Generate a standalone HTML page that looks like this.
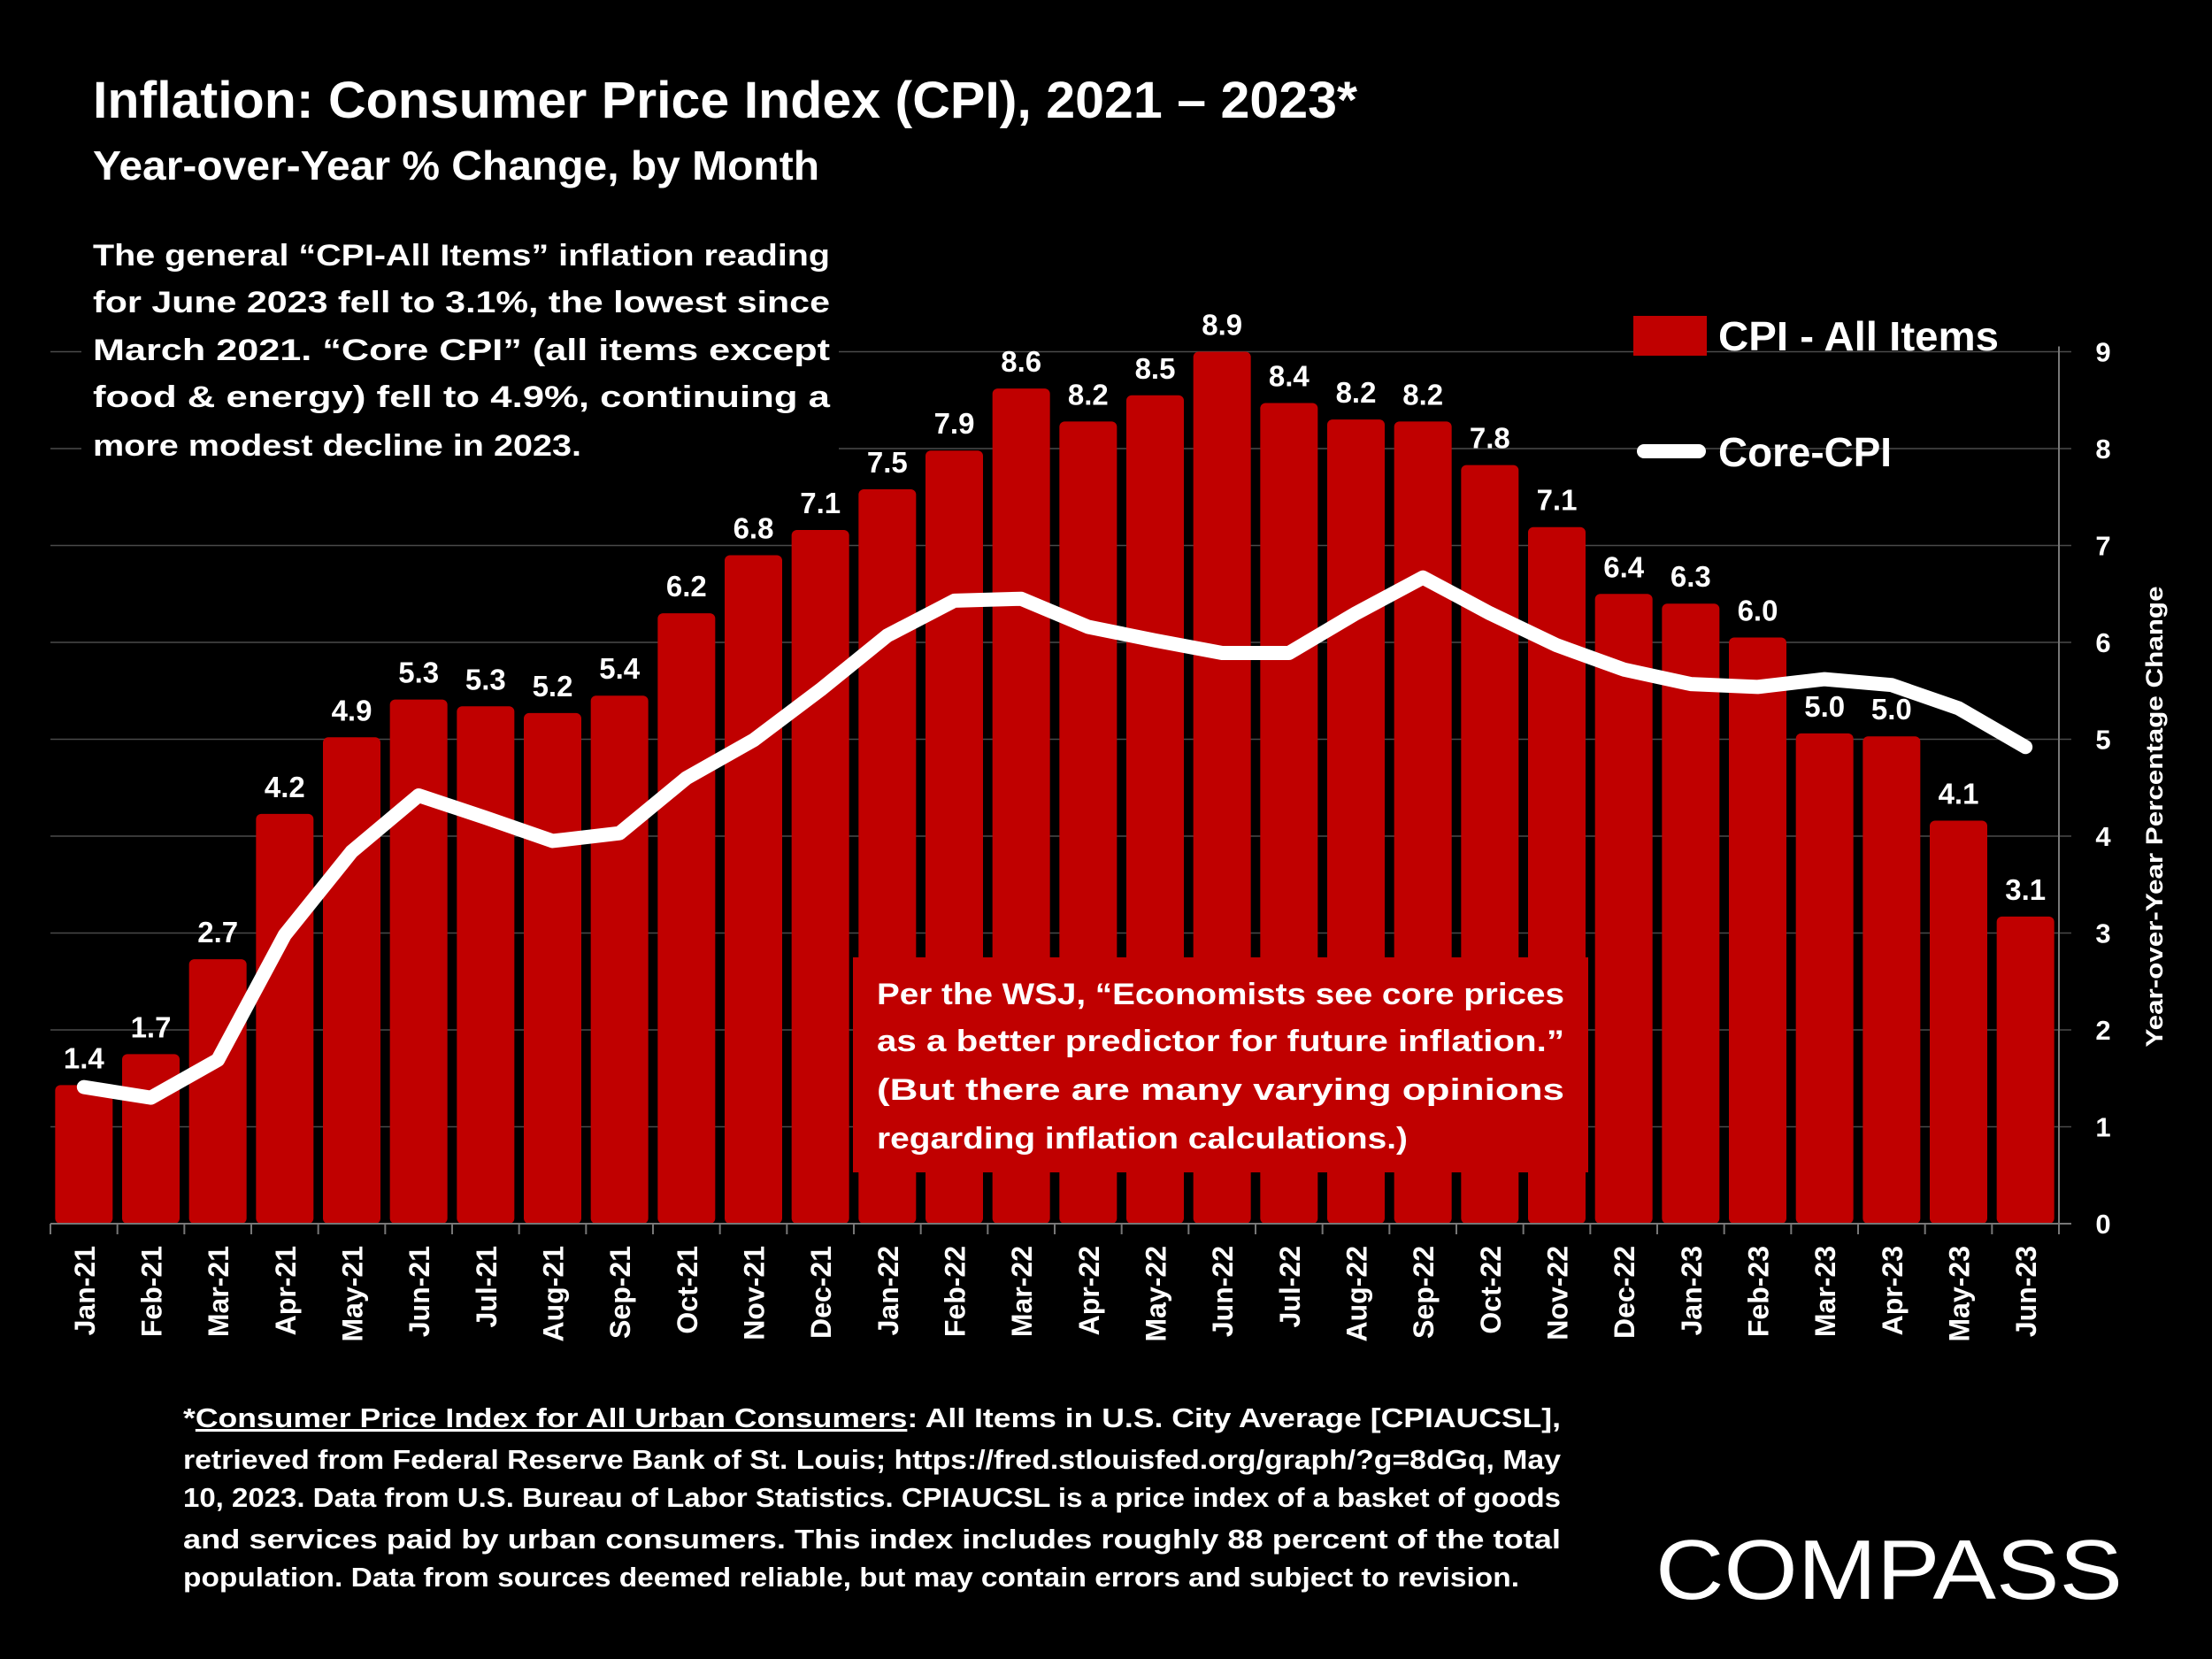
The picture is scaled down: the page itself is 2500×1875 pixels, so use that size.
<!DOCTYPE html>
<html><head><meta charset="utf-8"><style>
html,body{margin:0;padding:0;background:#000;}
svg{display:block;}
text{font-family:"Liberation Sans",sans-serif;fill:#fff;font-weight:bold;}
</style></head>
<body>
<svg id="chart" width="2500" height="1875" viewBox="0 0 2500 1875">
<rect x="0" y="0" width="2500" height="1875" fill="#000"/>
<text x="105" y="133" font-size="58" textLength="1429" lengthAdjust="spacingAndGlyphs">Inflation: Consumer Price Index (CPI), 2021 – 2023*</text>
<text x="105" y="203" font-size="46" textLength="821" lengthAdjust="spacingAndGlyphs">Year-over-Year % Change, by Month</text>
<g id="grid"></g>
<g font-size="34">
<rect x="92" y="258" width="856" height="275" fill="#000"/>
<text x="105" y="300" textLength="833" lengthAdjust="spacingAndGlyphs">The general “CPI-All Items” inflation reading</text>
<text x="105" y="353" textLength="833" lengthAdjust="spacingAndGlyphs">for June 2023 fell to 3.1%, the lowest since</text>
<text x="105" y="407" textLength="833" lengthAdjust="spacingAndGlyphs">March 2021. “Core CPI” (all items except</text>
<text x="105" y="460" textLength="833" lengthAdjust="spacingAndGlyphs">food &amp; energy) fell to 4.9%, continuing a</text>
<text x="105" y="515" textLength="552" lengthAdjust="spacingAndGlyphs">more modest decline in 2023.</text>
</g>
<g id="bars"></g>
<g id="axes"></g>
<g id="line"></g>
<g id="labels"></g>

<g>
<rect x="964" y="1082" width="831" height="243" fill="#c00000"/>
<g font-size="34">
<text x="991" y="1135" textLength="777" lengthAdjust="spacingAndGlyphs">Per the WSJ, “Economists see core prices</text>
<text x="991" y="1188" textLength="777" lengthAdjust="spacingAndGlyphs">as a better predictor for future inflation.”</text>
<text x="991" y="1243" textLength="777" lengthAdjust="spacingAndGlyphs">(But there are many varying opinions</text>
<text x="991" y="1298" textLength="600" lengthAdjust="spacingAndGlyphs">regarding inflation calculations.)</text>
</g></g>

<g>
<rect x="1846" y="357" width="83" height="45" fill="#c00000"/>
<text x="1942" y="396" font-size="46" textLength="317" lengthAdjust="spacingAndGlyphs">CPI - All Items</text>
<line x1="1858" y1="510" x2="1920" y2="510" stroke="#fff" stroke-width="16" stroke-linecap="round"/>
<text x="1942" y="527" font-size="46" textLength="196" lengthAdjust="spacingAndGlyphs">Core-CPI</text>
</g>

<text transform="translate(2444,923) rotate(-90)" text-anchor="middle" font-size="27" textLength="521" lengthAdjust="spacingAndGlyphs">Year-over-Year Percentage Change</text>

<g font-size="31">
<text x="207" y="1613" textLength="1557" lengthAdjust="spacingAndGlyphs">*<tspan text-decoration="underline">Consumer Price Index for All Urban Consumers</tspan>: All Items in U.S. City Average [CPIAUCSL],</text>
<text x="207" y="1660" textLength="1557" lengthAdjust="spacingAndGlyphs">retrieved from Federal Reserve Bank of St. Louis; https://fred.stlouisfed.org/graph/?g=8dGq, May</text>
<text x="207" y="1703" textLength="1557" lengthAdjust="spacingAndGlyphs">10, 2023. Data from U.S. Bureau of Labor Statistics. CPIAUCSL is a price index of a basket of goods</text>
<text x="207" y="1750" textLength="1557" lengthAdjust="spacingAndGlyphs">and services paid by urban consumers. This index includes roughly 88 percent of the total</text>
<text x="207" y="1793" textLength="1510" lengthAdjust="spacingAndGlyphs">population. Data from sources deemed reliable, but may contain errors and subject to revision.</text>
</g>
<text x="1871" y="1807" font-size="96" style="font-weight:normal" textLength="528" lengthAdjust="spacingAndGlyphs">COMPASS</text>

<script>
const months = ["Jan-21","Feb-21","Mar-21","Apr-21","May-21","Jun-21","Jul-21","Aug-21","Sep-21","Oct-21","Nov-21","Dec-21","Jan-22","Feb-22","Mar-22","Apr-22","May-22","Jun-22","Jul-22","Aug-22","Sep-22","Oct-22","Nov-22","Dec-22","Jan-23","Feb-23","Mar-23","Apr-23","May-23","Jun-23"];
const cpiValues = [1.43,1.75,2.73,4.23,5.02,5.41,5.34,5.27,5.45,6.3,6.9,7.16,7.58,7.98,8.62,8.28,8.55,9.0,8.47,8.3,8.28,7.83,7.19,6.5,6.4,6.05,5.06,5.03,4.16,3.17];
const cpiLabels = ["1.4","1.7","2.7","4.2","4.9","5.3","5.3","5.2","5.4","6.2","6.8","7.1","7.5","7.9","8.6","8.2","8.5","8.9","8.4","8.2","8.2","7.8","7.1","6.4","6.3","6.0","5.0","5.0","4.1","3.1"];
const coreValues = [1.41,1.3,1.69,2.98,3.84,4.42,4.19,3.95,4.03,4.6,4.99,5.51,6.07,6.43,6.45,6.16,6.02,5.89,5.89,6.3,6.67,6.3,5.97,5.72,5.57,5.54,5.62,5.56,5.32,4.92];
const yTicks = [0,1,2,3,4,5,6,7,8,9];

const NS = "http://www.w3.org/2000/svg";
const L = 57, R = 2327, Y0 = 1383, Y9 = 397.5;
const slot = (R - L) / months.length;
function xc(i){ return L + slot * (i + 0.5); }
function y(v){ return Y0 - (Y0 - Y9) * v / 9; }
function mk(tag, attrs, parent){ const e = document.createElementNS(NS, tag); for (const k in attrs) e.setAttribute(k, attrs[k]); parent.appendChild(e); return e; }

const grid = document.getElementById('grid');
const axes = document.getElementById('axes');
yTicks.forEach(t => {
  if (t > 0) {
    const g = mk('line', {x1:L, x2:R+14, y1:y(t), y2:y(t), stroke:'#4a4a4a', 'stroke-width':1.5}, grid);
    
    
  }
  const tl = mk('text', {x:2377, y:y(t)+11, 'text-anchor':'middle', 'font-size':31}, axes);
  tl.textContent = t;
  
  
});
mk('line', {x1:L, x2:R+14, y1:Y0, y2:Y0, stroke:'#777', 'stroke-width':2}, axes);
mk('line', {x1:R, x2:R, y1:y(9)-6, y2:Y0+12, stroke:'#777', 'stroke-width':2}, axes);
for (let i = 0; i <= months.length; i++) {
  mk('line', {x1:L+slot*i, x2:L+slot*i, y1:Y0, y2:Y0+12, stroke:'#777', 'stroke-width':2}, axes);
}

const bars = document.getElementById('bars');
const labels = document.getElementById('labels');
months.forEach((m, i) => {
  const b = mk('rect', {x:xc(i)-32.5, y:y(cpiValues[i]), width:65, height:Y0-y(cpiValues[i]), rx:6, fill:'#c00000'}, bars);
  
  
  const v = mk('text', {x:xc(i), y:y(cpiValues[i])-19, 'text-anchor':'middle', 'font-size':33}, labels);
  v.textContent = cpiLabels[i];
  
  
  const xl = mk('text', {transform:'translate(' + (xc(i)+12) + ',1408) rotate(-90)', 'text-anchor':'end', 'font-size':32}, axes);
  xl.textContent = m;
  
  
});

const pts = coreValues.map((v, i) => xc(i) + ',' + y(v)).join(' ');
const pl = mk('polyline', {points:pts, fill:'none', stroke:'#fff', 'stroke-width':16, 'stroke-linejoin':'round', 'stroke-linecap':'round'}, document.getElementById('line'));


</script>
</svg>
</body></html>
